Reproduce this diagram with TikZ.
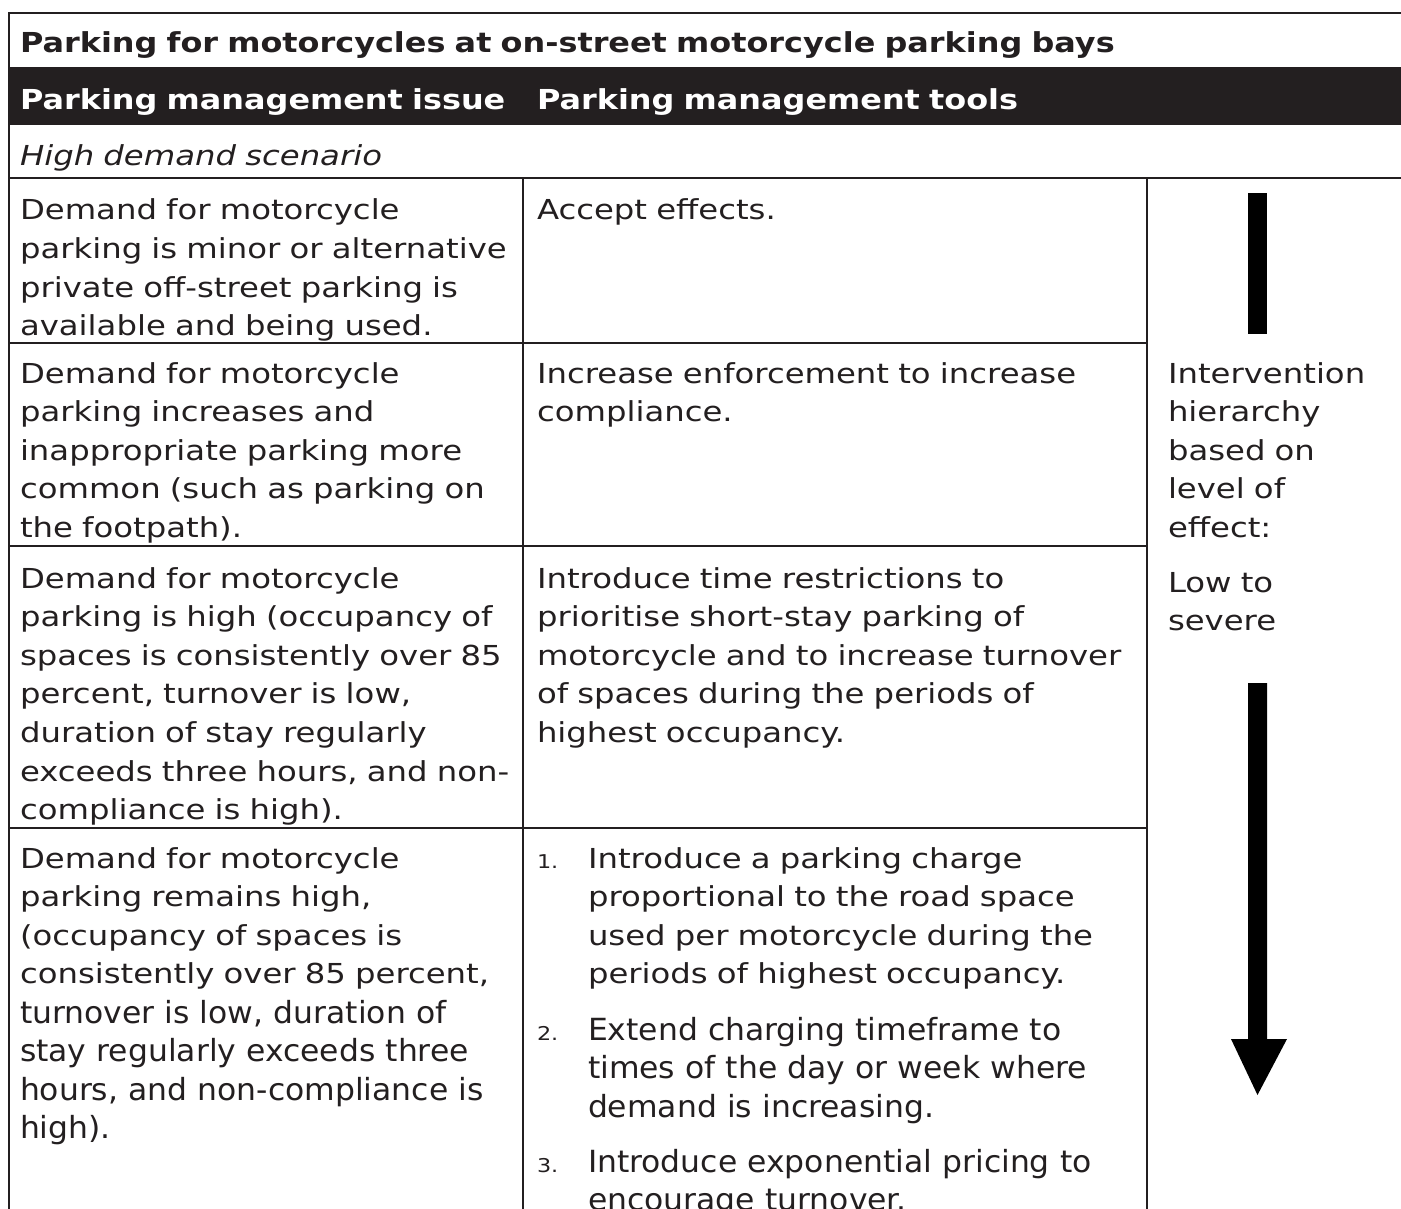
\documentclass[tikz,border=0pt]{standalone}
\usepackage{fontspec}
\setmainfont[FakeStretch=1.175, BoldFeatures={FakeStretch=1.16}]{DejaVu Sans}
\newfontfamily\narrowfont[FakeStretch=1.03]{DejaVu Sans}
\definecolor{ink}{HTML}{231F20}
\begin{document}
\begin{tikzpicture}[x=1pt,y=-1pt,
  rule/.style={draw=ink, line width=1.5pt},
  cell/.style={inner sep=0pt, outer sep=0pt, anchor=base west, align=left,
    text width=1300pt, text=ink, font=\fontsize{27.5}{38.6}\selectfont},
  narrowcell/.style={cell, font=\fontsize{30.5}{38.6}\narrowfont},
  headtext/.style={cell, font=\fontsize{27.5}{38.6}\selectfont\bfseries},
  numtext/.style={cell, font=\fontsize{19}{38.6}\selectfont}]
\useasboundingbox (0,0) rectangle (1401,1209);
\fill[white] (0,0) rectangle (1401,1209);

% header band
\fill[ink] (9,67) rectangle (1401,125);

% table rules
\draw[rule] (1401,13) -- (9,13) -- (9,1209);
\draw[rule] (9,178) -- (1401,178);
\draw[rule] (523,178) -- (523,1209);
\draw[rule] (1147,178) -- (1147,1209);
\draw[rule] (9,343) -- (1147,343);
\draw[rule] (9,546) -- (1147,546);
\draw[rule] (9,828) -- (1147,828);

% titles
\node[headtext] (title) at (20,53) {Parking for motorcycles at on-street motorcycle parking bays};
\node[headtext, text=white] (hissue) at (20,110) {Parking management issue};
\node[headtext, text=white] (htools) at (537,110) {Parking management tools};
\node[cell, font=\fontsize{27.5}{38.6}\selectfont\itshape] (scen) at (20,166) {High demand scenario};

% issues
\node[cell] (i1) at (20,220) {Demand for motorcycle\\parking is minor or alternative\\private off-street parking is\\available and being used.};
\node[cell] (i2) at (20,383) {Demand for motorcycle\\parking increases and\\inappropriate parking more\\common (such as parking on\\the footpath).};
\node[cell] (i3) at (20,588) {Demand for motorcycle\\parking is high (occupancy of\\spaces is consistently over 85\\percent, turnover is low,\\duration of stay regularly\\exceeds three hours, and non-\\compliance is high).};
\node[cell] (i4) at (20,868) {Demand for motorcycle\\parking remains high,\\(occupancy of spaces is\\consistently over 85 percent,};
\node[narrowcell] (i4b) at (20,1023) {turnover is low, duration of\\stay regularly exceeds three\\hours, and non-compliance is\\high).};

% tools
\node[cell] (t1) at (537,220) {Accept effects.};
\node[cell] (t2) at (537,383) {Increase enforcement to increase\\compliance.};
\node[cell] (t3) at (537,588) {Introduce time restrictions to\\prioritise short-stay parking of\\motorcycle and to increase turnover\\of spaces during the periods of\\highest occupancy.};
\node[numtext] (n1) at (537,868) {1.};
\node[cell] (t4a) at (588,868) {Introduce a parking charge\\proportional to the road space\\used per motorcycle during the\\periods of highest occupancy.};
\node[numtext] (n2) at (537,1040) {2.};
\node[narrowcell] (t4b) at (588,1040) {Extend charging timeframe to\\times of the day or week where\\demand is increasing.};
\node[numtext] (n3) at (537,1172) {3.};
\node[narrowcell] (t4c) at (588,1172) {Introduce exponential pricing to\\encourage turnover.};

% hierarchy column
\node[cell] (h1) at (1168,383) {Intervention\\hierarchy\\based on\\level of\\effect:};
\node[cell] (h2) at (1168,592) {Low to\\severe};
\fill[black] (1248,193) rectangle (1267,334);
\fill[black] (1248,683) -- (1267,683) -- (1267,1039) -- (1287,1039)
  -- (1257.5,1095) -- (1231,1039) -- (1248,1039) -- cycle;
\end{tikzpicture}
\end{document}
